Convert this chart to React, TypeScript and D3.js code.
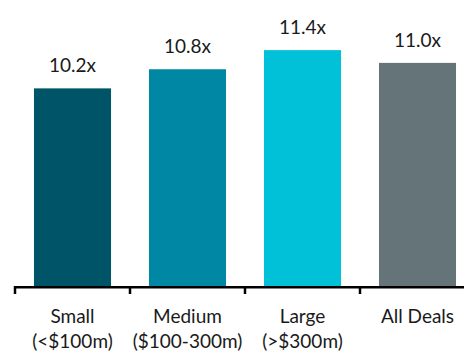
import React from "react";
import * as d3 from "d3";

const categories = ["Small", "Medium", "Large", "All Deals"];
const subLabels = ["(<$100m)", "($100-300m)", "(>$300m)", ""];
const values = [10.2, 10.8, 11.4, 11.0];
const valueLabels = ["10.2x", "10.8x", "11.4x", "11.0x"];
const colors = ["#005468", "#0087a4", "#00c1d7", "#647479"];

const W = 464;
const H = 356;

export default function App() {
  const x = d3.scaleBand<string>().domain(categories).range([15, 475]).paddingInner(0.33).paddingOuter(0.165);
  const y = d3.scaleLinear().domain([4, 12]).range([286, 31]);
  const step = x.step();
  const half = (step - x.bandwidth()) / 2;
  const tickXs = categories.map((c) => (x(c) as number) - half).concat([(x(categories[3]) as number) + x.bandwidth() + half]);
  const font = "Lato, 'Open Sans', sans-serif";
  return (
    <svg width={W} height={H} style={{ position: "absolute", left: 0, top: 0, display: "block" }} fontFamily={font}>
      <rect width={W} height={H} fill="#fff" />
      {categories.map((c, i) => (
        <g key={c}>
          <rect x={x(c)} y={y(values[i])} width={x.bandwidth()} height={y(4) - y(values[i])} fill={colors[i]} />
          <text x={(x(c) as number) + x.bandwidth() / 2} y={y(values[i]) - 16} textAnchor="middle" fontSize={19} fill="#1a1a1a">
            {valueLabels[i]}
          </text>
          <text x={(x(c) as number) + x.bandwidth() / 2} y={322.5} textAnchor="middle" fontSize={19} fill="#1a1a1a">
            {c}
          </text>
          {subLabels[i] && (
            <text x={(x(c) as number) + x.bandwidth() / 2} y={348} textAnchor="middle" fontSize={19} fill="#1a1a1a">
              {subLabels[i]}
            </text>
          )}
        </g>
      ))}
      <line x1={tickXs[0]} x2={tickXs[4]} y1={287.3} y2={287.3} stroke="#000" strokeWidth={2.5} />
      {tickXs.map((t, i) => (
        <line key={i} x1={t} x2={t} y1={286} y2={294} stroke="#000" strokeWidth={2.5} />
      ))}
    </svg>
  );
}
